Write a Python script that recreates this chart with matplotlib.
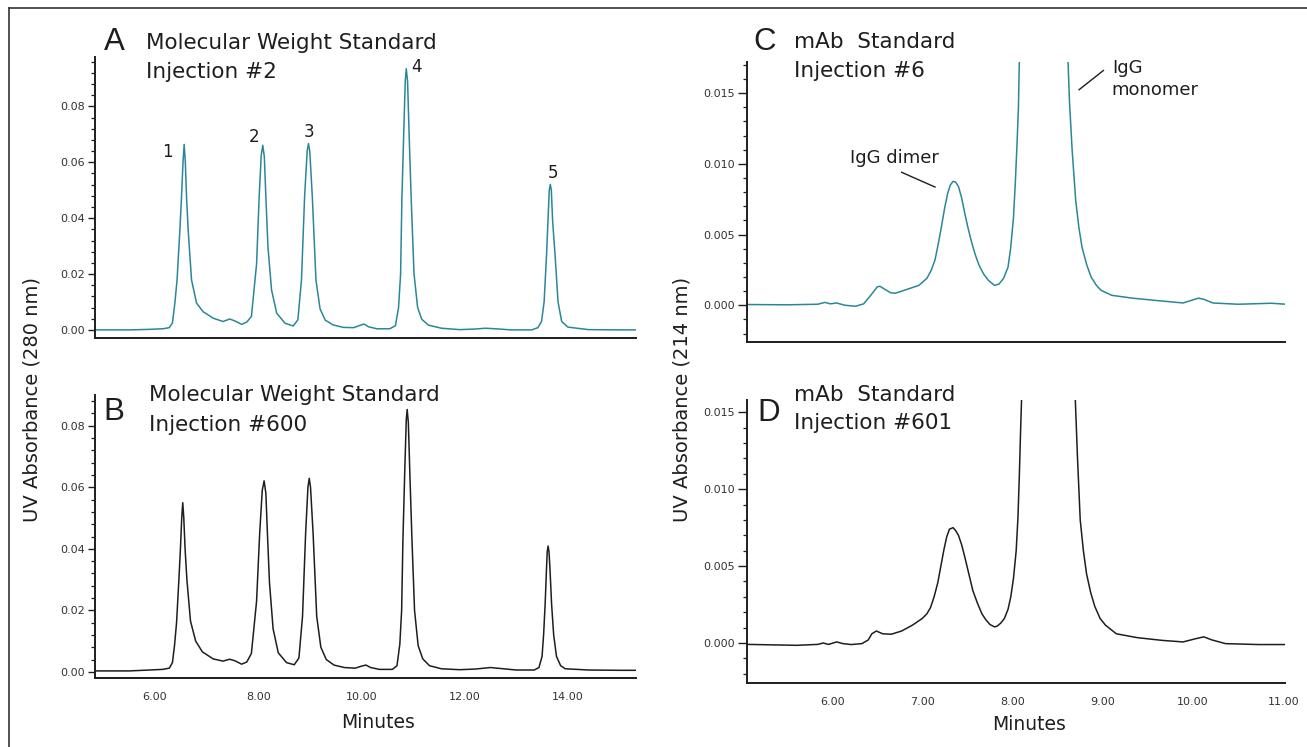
import matplotlib
matplotlib.use("Agg")
import matplotlib.pyplot as plt
from matplotlib.ticker import MultipleLocator, FormatStrFormatter
from matplotlib.lines import Line2D

# chromatogram A: molecular weight standard, injection #2 (280 nm)
a_time = [4.85, 5.5, 5.9, 6.15, 6.28, 6.34, 6.387, 6.43, 6.484, 6.516, 6.545, 6.567, 6.59, 6.613,
          6.645, 6.71, 6.807, 6.935, 7.13, 7.32, 7.45, 7.55, 7.68, 7.78, 7.87, 7.97, 8.02, 8.06,
          8.09, 8.12, 8.15, 8.19, 8.26, 8.36, 8.52, 8.68, 8.77, 8.84, 8.90, 8.95, 8.975, 9.00,
          9.05, 9.12, 9.20, 9.30, 9.45, 9.65, 9.85, 9.97, 10.05, 10.14, 10.30, 10.55, 10.66,
          10.72, 10.76, 10.785, 10.82, 10.85, 10.87, 10.895, 10.925, 10.965, 11.02, 11.09,
          11.17, 11.30, 11.55, 11.9, 12.2, 12.4, 12.6, 12.9, 13.3, 13.42, 13.49, 13.54, 13.585,
          13.615, 13.64, 13.66, 13.68, 13.705, 13.755, 13.81, 13.88, 14.0, 14.4, 15.0, 15.32]
a_abs = [0.0, 0.0, 0.0002, 0.0004, 0.0008, 0.0025, 0.0096, 0.0179, 0.0357, 0.0476, 0.060, 0.0664,
         0.060, 0.0476, 0.0357, 0.0179, 0.0096, 0.0065, 0.0042, 0.0030, 0.0039, 0.0032, 0.0020,
         0.0028, 0.0048, 0.0236, 0.0476, 0.0625, 0.0661, 0.062, 0.0476, 0.0298, 0.0143, 0.0060,
         0.0024, 0.0014, 0.0036, 0.0179, 0.0476, 0.064, 0.0667, 0.064, 0.0476, 0.0179, 0.0075,
         0.0035, 0.0018, 0.0009, 0.0008, 0.0016, 0.0021, 0.0011, 0.0004, 0.0004, 0.0015, 0.008,
         0.020, 0.047, 0.070, 0.089, 0.0935, 0.089, 0.070, 0.047, 0.020, 0.008, 0.0038, 0.0017,
         0.0006, 0.0001, 0.0003, 0.0006, 0.0004, 0.0, 0.0, 0.0008, 0.003, 0.010, 0.026, 0.039,
         0.050, 0.0521, 0.050, 0.039, 0.026, 0.010, 0.003, 0.0010, 0.0001, 0.0, 0.0]

# chromatogram B: molecular weight standard, injection #600 (280 nm)
b_time = [4.85, 5.5, 5.9, 6.15, 6.28, 6.34, 6.38, 6.42, 6.465, 6.495, 6.52, 6.54, 6.56, 6.585,
          6.62, 6.69, 6.79, 6.92, 7.13, 7.32, 7.45, 7.55, 7.68, 7.78, 7.87, 7.97, 8.03, 8.08,
          8.116, 8.15, 8.18, 8.22, 8.29, 8.39, 8.55, 8.70, 8.79, 8.86, 8.92, 8.965, 8.99, 9.015,
          9.065, 9.135, 9.215, 9.32, 9.47, 9.67, 9.88, 10.01, 10.09, 10.18, 10.35, 10.60, 10.69,
          10.745, 10.78, 10.805, 10.84, 10.87, 10.887, 10.91, 10.94, 10.98, 11.03, 11.10, 11.19,
          11.32, 11.55, 11.9, 12.2, 12.5, 12.75, 13.0, 13.35, 13.44, 13.50, 13.53, 13.56, 13.585,
          13.60, 13.617, 13.635, 13.655, 13.685, 13.725, 13.78, 13.86, 13.95, 14.4, 15.0, 15.32]
b_abs = [0.0003, 0.0003, 0.0006, 0.0008, 0.0012, 0.0030, 0.0085, 0.016, 0.030, 0.040, 0.050,
         0.055, 0.050, 0.040, 0.030, 0.0165, 0.0100, 0.0065, 0.0042, 0.0035, 0.0041, 0.0036,
         0.0025, 0.0032, 0.0060, 0.0230, 0.0450, 0.059, 0.0621, 0.058, 0.0450, 0.0290, 0.0140,
         0.0062, 0.0030, 0.0023, 0.0045, 0.0180, 0.0450, 0.0600, 0.0629, 0.060, 0.0450, 0.0180,
         0.0080, 0.0040, 0.0022, 0.0014, 0.0012, 0.0019, 0.0022, 0.0014, 0.0008, 0.0008, 0.0020,
         0.009, 0.020, 0.043, 0.065, 0.082, 0.0853, 0.081, 0.064, 0.043, 0.020, 0.0085, 0.0042,
         0.0020, 0.0010, 0.0007, 0.0009, 0.0014, 0.0010, 0.0006, 0.0006, 0.0014, 0.005, 0.012,
         0.022, 0.033, 0.039, 0.0409, 0.039, 0.033, 0.022, 0.012, 0.005, 0.002, 0.0010, 0.0006,
         0.0005, 0.0005]

# chromatogram C: mAb standard, injection #6 (214 nm)
c_time = [5.06, 5.5, 5.84, 5.92, 5.98, 6.05, 6.14, 6.26, 6.35, 6.44, 6.50, 6.53, 6.59, 6.65,
          6.70, 6.82, 6.96, 7.05, 7.10, 7.14, 7.175, 7.21, 7.245, 7.28, 7.31, 7.34, 7.37, 7.40,
          7.435, 7.47, 7.505, 7.54, 7.585, 7.63, 7.68, 7.73, 7.80, 7.85, 7.90, 7.95, 7.98, 8.01,
          8.03, 8.05, 8.065, 8.08, 8.12, 8.20, 8.33, 8.46, 8.56, 8.60, 8.63, 8.66, 8.70, 8.735,
          8.77, 8.82, 8.87, 8.93, 8.98, 9.10, 9.33, 9.57, 9.89, 9.985, 10.06, 10.12, 10.22,
          10.50, 10.87, 11.03]
c_abs = [0.00005, 0.00003, 0.00007, 0.0002, 0.0001, 0.00016, 0.0, -0.00007, 0.0001, 0.0008,
         0.0013, 0.00134, 0.0011, 0.00088, 0.00085, 0.0011, 0.0014, 0.0019, 0.0025, 0.0032,
         0.0043, 0.0055, 0.0068, 0.0079, 0.0085, 0.00876, 0.0087, 0.0084, 0.0076, 0.0065,
         0.0055, 0.0046, 0.0036, 0.0028, 0.0022, 0.00177, 0.0014, 0.0015, 0.0019, 0.0027,
         0.0041, 0.0062, 0.0086, 0.0115, 0.0140, 0.019, 0.035, 0.080, 0.150, 0.080, 0.035,
         0.020, 0.0145, 0.011, 0.0074, 0.0055, 0.0041, 0.0029, 0.0020, 0.0014, 0.00106, 0.0007,
         0.0005, 0.00035, 0.00016, 0.00035, 0.0005, 0.00042, 0.00016, 0.00007, 0.00014, 0.00007]

# chromatogram D: mAb standard, injection #601 (214 nm)
d_time = [5.06, 5.61, 5.84, 5.90, 5.96, 6.05, 6.12, 6.21, 6.33, 6.40, 6.44, 6.49, 6.56, 6.655,
          6.77, 6.89, 7.00, 7.05, 7.09, 7.13, 7.17, 7.205, 7.24, 7.27, 7.30, 7.34, 7.37, 7.40,
          7.435, 7.47, 7.515, 7.56, 7.61, 7.66, 7.705, 7.75, 7.80, 7.83, 7.87, 7.91, 7.95, 7.98,
          8.01, 8.04, 8.06, 8.075, 8.09, 8.10, 8.14, 8.22, 8.40, 8.58, 8.66, 8.695, 8.72, 8.75,
          8.785, 8.82, 8.865, 8.91, 8.97, 9.03, 9.15, 9.38, 9.66, 9.89, 10.03, 10.12, 10.21,
          10.36, 10.73, 11.03]
d_abs = [-0.00009, -0.00015, -0.00009, 0.0, -0.00009, 0.00007, -0.00004, -0.0001, -0.00004,
         0.0002, 0.0006, 0.00078, 0.0006, 0.00057, 0.00078, 0.00116, 0.0016, 0.0019, 0.0023,
         0.0030, 0.0039, 0.0050, 0.0061, 0.0069, 0.0074, 0.0075, 0.0073, 0.0070, 0.0064, 0.0056,
         0.0045, 0.0034, 0.0026, 0.0019, 0.0015, 0.0012, 0.00105, 0.0011, 0.0013, 0.0016,
         0.0022, 0.0030, 0.0042, 0.0060, 0.0082, 0.0109, 0.0140, 0.0159, 0.030, 0.070, 0.140,
         0.070, 0.025, 0.0159, 0.012, 0.008, 0.006, 0.0045, 0.0033, 0.0024, 0.0016, 0.00116,
         0.0006, 0.00035, 0.00017, 0.00007, 0.00028, 0.0004, 0.0002, -0.00004, -0.0001, -0.0001]

peak_numbers = ["1", "2", "3", "4", "5"]
peak_label_time = [6.24, 7.93, 8.99, 11.07, 13.72]
peak_label_abs = [0.0637, 0.069, 0.0708, 0.0940, 0.0562]

mw_ticks_x = [6, 8, 10, 12, 14]
mab_ticks_x = [6, 7, 8, 9, 10, 11]

W, H = 1307, 747
teal = "#2a8796"
dark = "#1e1e1e"

fig = plt.figure(figsize=(W / 100, H / 100), dpi=100)
plt.rcParams['font.family'] = 'DejaVu Sans'


def px_rect(left, top, right, bottom):
    return [left / W, 1 - bottom / H, (right - left) / W, (bottom - top) / H]


def fpos(x, y):
    return x / W, 1 - y / H


def style_axes(ax, major_y, minor_y, fmt, ticklen, show_x):
    for s in ['top', 'right']:
        ax.spines[s].set_visible(False)
    for s in ['left', 'bottom']:
        ax.spines[s].set_linewidth(1.4)
        ax.spines[s].set_color(dark)
    ax.yaxis.set_major_locator(MultipleLocator(major_y))
    ax.yaxis.set_minor_locator(MultipleLocator(minor_y))
    ax.yaxis.set_major_formatter(FormatStrFormatter(fmt))
    ax.tick_params(axis='y', which='major', length=ticklen, width=1.0, labelsize=8,
                   pad=2, colors=dark, labelcolor='#333333')
    ax.tick_params(axis='y', which='minor', length=3, width=0.9, colors=dark)
    ax.tick_params(axis='x', which='both', length=0, pad=10, labelsize=8,
                   labelcolor='#333333')
    if not show_x:
        ax.set_xticklabels([])


axA = fig.add_axes(px_rect(95, 57, 636, 338))
axB = fig.add_axes(px_rect(95, 395, 636, 678))
axC = fig.add_axes(px_rect(747, 62, 1285, 342))
axD = fig.add_axes(px_rect(747, 400, 1285, 683))

axA.plot(a_time, a_abs, color=teal, lw=1.1)
axB.plot(b_time, b_abs, color=dark, lw=1.1)
axC.plot(c_time, c_abs, color=teal, lw=1.1)
axD.plot(d_time, d_abs, color=dark, lw=1.1)

for ax in (axA, axB):
    ax.set_xlim(4.84, 15.32)
    ax.set_xticks(mw_ticks_x)
    ax.xaxis.set_major_formatter(FormatStrFormatter('%.2f'))
for ax in (axC, axD):
    ax.set_xlim(5.056, 11.02)
    ax.set_xticks(mab_ticks_x)
    ax.xaxis.set_major_formatter(FormatStrFormatter('%.2f'))

axA.set_ylim(-0.0029, 0.0977)
axB.set_ylim(-0.002, 0.090)
axC.set_ylim(-0.0026, 0.0172)
axD.set_ylim(-0.0026, 0.0158)

style_axes(axA, 0.02, 0.004, '%.2f', 5, False)
style_axes(axB, 0.02, 0.004, '%.2f', 5, True)
style_axes(axC, 0.005, 0.001, '%.3f', 6.5, False)
style_axes(axD, 0.005, 0.001, '%.3f', 6.5, True)

for lab, t, v in zip(peak_numbers, peak_label_time, peak_label_abs):
    axA.text(t, v, lab, ha='center', va='center', fontsize=12, color=dark)

# annotations in C
axC.text(6.69, 0.0104, "IgG dimer", ha='center', va='center', fontsize=13, color=dark)
axC.plot([6.77, 7.14], [0.0094, 0.00836], color=dark, lw=1.0)
axC.text(9.10, 0.01675, "IgG", ha='left', va='center', fontsize=13, color=dark)
axC.text(9.10, 0.0152, "monomer", ha='left', va='center', fontsize=13, color=dark)
axC.plot([9.007, 8.737], [0.0166, 0.01524], color=dark, lw=1.0, clip_on=False)

# panel letters and titles
letters = [("A", 114, 42), ("B", 114, 412), ("C", 765, 42), ("D", 769, 413)]
for txt, x, y in letters:
    fig.text(*fpos(x, y), txt, fontsize=22.5, family='Liberation Sans',
             ha='center', va='center', color=dark)

titles = [("Molecular Weight Standard", 146, 43), ("Injection #2", 146, 72),
          ("Molecular Weight Standard", 149, 395), ("Injection #600", 149, 425),
          ("mAb  Standard", 794, 42), ("Injection #6", 794, 71),
          ("mAb  Standard", 794, 395), ("Injection #601", 794, 423)]
for txt, x, y in titles:
    fig.text(*fpos(x, y), txt, fontsize=15.5, ha='left', va='center', color=dark)

fig.text(*fpos(32, 399), "UV Absorbance (280 nm)", rotation=90, fontsize=14,
         ha='center', va='center', color=dark)
fig.text(*fpos(682, 399), "UV Absorbance (214 nm)", rotation=90, fontsize=14,
         ha='center', va='center', color=dark)
fig.text(*fpos(378, 722), "Minutes", fontsize=13.5, ha='center', va='center', color=dark)
fig.text(*fpos(1029, 725), "Minutes", fontsize=13.5, ha='center', va='center', color=dark)

# frame lines (top and left edge of the figure box)
fig.add_artist(Line2D([8.5 / W, 1.0], [1 - 7.5 / H, 1 - 7.5 / H], transform=fig.transFigure,
                      color='#333333', lw=1.2))
fig.add_artist(Line2D([8.5 / W, 8.5 / W], [0.0, 1 - 7.5 / H], transform=fig.transFigure,
                      color='#333333', lw=1.2))

fig.savefig("out.png", dpi=100, facecolor='white')
